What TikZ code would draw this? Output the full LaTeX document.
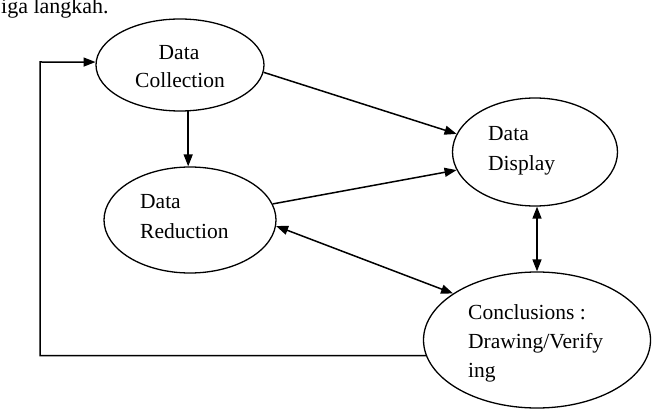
\documentclass[tikz,border=0pt]{standalone}
\usepackage{fontspec}
\setmainfont{Liberation Serif}
\usetikzlibrary{arrows.meta,shapes.geometric,calc}
\begin{document}
\begin{tikzpicture}[x=1pt,y=-1pt,
  ell/.style={draw,ellipse,line width=1.3pt,inner sep=0pt},
  arr/.style={line width=1.5pt,-{Triangle[length=12pt,width=9pt]}},
  darr/.style={line width=1.5pt,{Triangle[length=12pt,width=9pt]}-{Triangle[length=12pt,width=9pt]}},
  lbl/.style={inner sep=0pt,font=\fontsize{21.5}{29}\selectfont},
]
\useasboundingbox (0,0) rectangle (652,414);
\node[lbl,anchor=base west] (top) at (1,14) {\fontsize{22}{26}\selectfont iga langkah.};
% ellipses
\node[ell,minimum width=168pt,minimum height=92pt] (dc) at (180,65) {};
\node[ell,minimum width=165pt,minimum height=108pt] (dd) at (535,152) {};
\node[ell,minimum width=172pt,minimum height=106pt] (dr) at (190,220) {};
\node[ell,minimum width=227pt,minimum height=136pt] (cv) at (537,340) {};
% texts
\node[lbl,anchor=base] (dca) at (179,60) {Data};
\node[lbl,anchor=base] (dcb) at (180,88) {Collection};
\node[lbl,anchor=base west] (dda) at (488,141) {Data};
\node[lbl,anchor=base west] (ddb) at (488,170) {Display};
\node[lbl,anchor=base west] (dra) at (140,208) {Data};
\node[lbl,anchor=base west] (drb) at (140,238) {Reduction};
\node[lbl,anchor=base west] (cva) at (468,319) {Conclusions :};
\node[lbl,anchor=base west] (cvb) at (468,348) {Drawing/Verify};
\node[lbl,anchor=base west] (cvc) at (468,377) {ing};
% connectors
\coordinate (c2) at (40,62);
\draw[arr] (dc.-80) -- (dc.-80 |- dr.north);
\draw[arr] (dc.-5) -- (dd.167);
\draw[arr] (dr.11.6) -- (dd.-167.8);
\draw[darr] (dr.-4.6) -- (cv.151.6);
\draw[darr] (cv.north |- dd.south) -- (cv.north);
\draw[arr] (cv.188.6) -| (c2) -- (dc.178);
\end{tikzpicture}
\end{document}
